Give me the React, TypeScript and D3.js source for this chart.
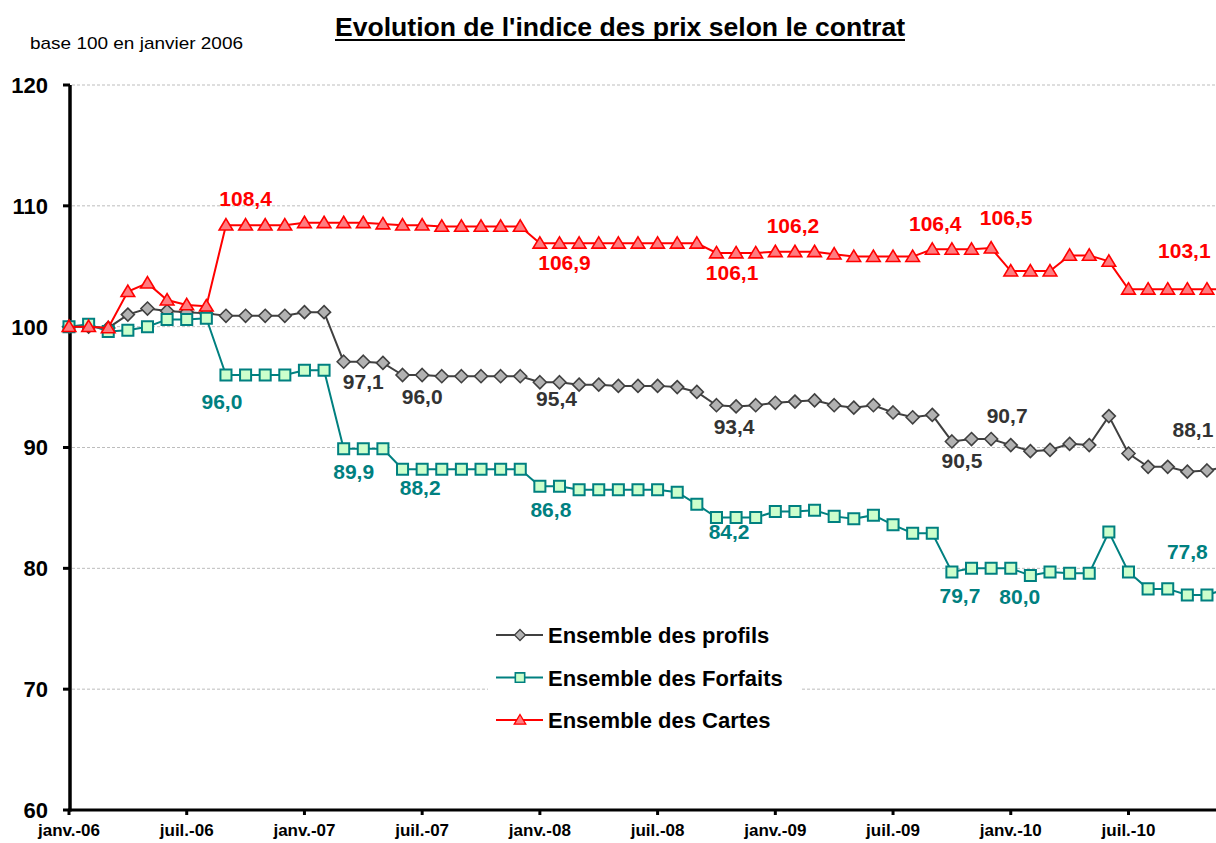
import * as d3 from "d3"

// month index 0 = janv.-06
const tickLabels = ["janv.-06", "juil.-06", "janv.-07", "juil.-07", "janv.-08", "juil.-08", "janv.-09", "juil.-09", "janv.-10", "juil.-10"]
const yTicks = [60, 70, 80, 90, 100, 110, 120]

const profils = [
  100.0, 100.0, 99.9, 101.0, 101.5, 101.3, 101.2, 101.1, 100.9, 100.9, 100.9, 100.9,
  101.2, 101.2, 97.1, 97.1, 97.0, 96.0, 96.0, 95.9, 95.9, 95.9, 95.9, 95.9,
  95.4, 95.4, 95.2, 95.2, 95.1, 95.1, 95.1, 95.0, 94.6, 93.5, 93.4, 93.5,
  93.7, 93.8, 93.9, 93.5, 93.3, 93.5, 92.9, 92.5, 92.7, 90.5, 90.7, 90.7,
  90.2, 89.7, 89.8, 90.3, 90.2, 92.6, 89.5, 88.4, 88.4, 88.0, 88.1, 88.4,
]
const forfaits = [
  100.0, 100.2, 99.6, 99.7, 100.0, 100.6, 100.6, 100.7, 96.0, 96.0, 96.0, 96.0,
  96.4, 96.4, 89.9, 89.9, 89.9, 88.2, 88.2, 88.2, 88.2, 88.2, 88.2, 88.2,
  86.8, 86.8, 86.5, 86.5, 86.5, 86.5, 86.5, 86.3, 85.3, 84.2, 84.2, 84.2,
  84.7, 84.7, 84.8, 84.3, 84.1, 84.4, 83.6, 82.9, 82.9, 79.7, 80.0, 80.0,
  80.0, 79.4, 79.7, 79.6, 79.6, 83.0, 79.7, 78.3, 78.3, 77.8, 77.8, 78.3,
]
const cartes = [
  100.0, 100.0, 99.9, 102.9, 103.6, 102.2, 101.8, 101.7, 108.4, 108.4, 108.4, 108.4,
  108.6, 108.6, 108.6, 108.6, 108.5, 108.4, 108.4, 108.3, 108.3, 108.3, 108.3, 108.3,
  106.9, 106.9, 106.9, 106.9, 106.9, 106.9, 106.9, 106.9, 106.9, 106.1, 106.1, 106.1,
  106.2, 106.2, 106.2, 106.0, 105.8, 105.8, 105.8, 105.8, 106.4, 106.4, 106.4, 106.5,
  104.6, 104.6, 104.6, 105.9, 105.9, 105.4, 103.1, 103.1, 103.1, 103.1, 103.1, 103.1,
]

// data labels: month index + offset of the label centre from the point
const labelsProfils = [
  { i: 15, dx: 0, dy: 20 }, { i: 18, dx: 0, dy: 21 }, { i: 25, dx: -3, dy: 16 },
  { i: 34, dx: -2, dy: 20 }, { i: 45, dx: 10, dy: 19 }, { i: 47, dx: 16, dy: -24 },
  { i: 58, dx: -14, dy: -41 },
]
const labelsForfaits = [
  { i: 8, dx: -4, dy: 26 }, { i: 14, dx: 10, dy: 23 }, { i: 18, dx: -2, dy: 18 },
  { i: 24, dx: 11, dy: 23 }, { i: 34, dx: -7, dy: 14 }, { i: 45, dx: 8, dy: 23 },
  { i: 48, dx: 9, dy: 28 }, { i: 57, dx: 0, dy: -43 },
]
const labelsCartes = [
  { i: 9, dx: 0, dy: -27 }, { i: 25, dx: 5, dy: 19 }, { i: 34, dx: -4, dy: 19 },
  { i: 37, dx: -2, dy: -26 }, { i: 44, dx: 3, dy: -26 }, { i: 47, dx: 15, dy: -31 },
  { i: 57, dx: -3, dy: -39 },
]

const series = [
  { name: "Ensemble des profils", values: profils, line: "#404040", fill: "#B2B2B2", stroke: "#404040", text: "#333333", marker: "diamond", labels: labelsProfils },
  { name: "Ensemble des Forfaits", values: forfaits, line: "#008080", fill: "#CCFFCC", stroke: "#008080", text: "#008080", marker: "square", labels: labelsForfaits },
  { name: "Ensemble des Cartes", values: cartes, line: "#FF0000", fill: "#FF7C80", stroke: "#FF0000", text: "#FF0000", marker: "triangle", labels: labelsCartes },
]

const font = "Arial, 'Liberation Sans', sans-serif"

function markerPath(kind: string, s: number) {
  if (kind === "diamond") return `M0,${-s}L${s},0L0,${s}L${-s},0Z`
  if (kind === "square") return `M${-s * 0.85},${-s * 0.85}H${s * 0.85}V${s * 0.85}H${-s * 0.85}Z`
  return `M0,${-s}L${s * 1.05},${s * 0.75}L${-s * 1.05},${s * 0.75}Z`
}

export default function App() {
  const width = 1216
  const height = 843

  const x = d3.scaleLinear().domain([0, 60]).range([69, 69 + 60 * 19.62])
  const y = d3.scaleLinear().domain([60, 120]).range([810, 85])

  const line = d3
    .line<number>()
    .x((_, i) => x(i))
    .y((d) => y(d))

  const fmt = (v: number) => d3.format(".1f")(v).replace(".", ",")

  return (
    <>
      <style>{`body{margin:0}`}</style>
      <svg width={width} height={height} style={{ display: "block", background: "#fff" }} fontFamily={font}>
        {/* title */}
        <text x={620} y={36} textAnchor="middle" fontSize={25} fontWeight="bold" textLength={570} lengthAdjust="spacingAndGlyphs">
          Evolution de l'indice des prix selon le contrat
        </text>
        <line x1={335} x2={905} y1={40} y2={40} stroke="#000" strokeWidth={2} />
        <text x={30} y={49} fontSize={17} textLength={213} lengthAdjust="spacingAndGlyphs" fill="#000">
          base 100 en janvier 2006
        </text>

        {/* grid */}
        {yTicks.slice(1).map((t) => (
          <line key={t} x1={72} x2={width} y1={y(t)} y2={y(t)} stroke="#BDBDBD" strokeWidth={1} strokeDasharray="3,2" />
        ))}

        {/* y axis */}
        <line x1={70} x2={70} y1={y(120)} y2={y(60) + 1.5} stroke="#000" strokeWidth={3.5} />
        {yTicks.map((t) => (
          <g key={t}>
            <line x1={63} x2={70} y1={y(t)} y2={y(t)} stroke="#000" strokeWidth={3} />
            <text x={48} y={y(t)} dy="0.36em" textAnchor="end" fontSize={22} fontWeight="bold">
              {t}
            </text>
          </g>
        ))}

        {/* x axis */}
        <line x1={68} x2={width} y1={y(60)} y2={y(60)} stroke="#000" strokeWidth={3} />
        {tickLabels.map((lab, k) => (
          <g key={lab}>
            <line x1={x(k * 6)} x2={x(k * 6)} y1={y(60)} y2={y(60) + 5} stroke="#000" strokeWidth={3} />
            <text x={x(k * 6)} y={836} textAnchor="middle" fontSize={17} fontWeight="bold">
              {lab}
            </text>
          </g>
        ))}

        {/* legend box */}
        <rect x={488} y={612} width={314} height={130} fill="#fff" />

        {/* series */}
        {series.map((s) => (
          <g key={s.name}>
            <path d={line(s.values) ?? ""} fill="none" stroke={s.line} strokeWidth={2} />
            {s.values.map((v, i) => (
              <path
                key={i}
                d={markerPath(s.marker, 6.5)}
                transform={`translate(${x(i)},${y(v)})`}
                fill={s.fill}
                stroke={s.stroke}
                strokeWidth={s.marker === "square" ? 2 : 1.6}
              />
            ))}
          </g>
        ))}

        {/* data labels */}
        {series.map((s) =>
          s.labels.map((l) => (
            <text
              key={s.name + l.i}
              x={x(l.i) + l.dx}
              y={y(s.values[l.i]) + l.dy}
              dy="0.36em"
              textAnchor="middle"
              fontSize={21}
              fontWeight="bold"
              fill={s.text}
            >
              {fmt(s.values[l.i])}
            </text>
          ))
        )}

        {/* legend */}
        {series.map((s, k) => {
          const cy = 635 + k * 42.5
          return (
            <g key={s.name}>
              <line x1={496} x2={543} y1={cy} y2={cy} stroke={s.line} strokeWidth={2} />
              <path
                d={markerPath(s.marker, 5.5)}
                transform={`translate(520,${cy})`}
                fill={s.fill}
                stroke={s.stroke}
                strokeWidth={s.marker === "square" ? 1.6 : 1.3}
              />
              <text x={548} y={cy + 8} fontSize={22} fontWeight="bold" fill="#000">
                {s.name}
              </text>
            </g>
          )
        })}
      </svg>
    </>
  )
}
